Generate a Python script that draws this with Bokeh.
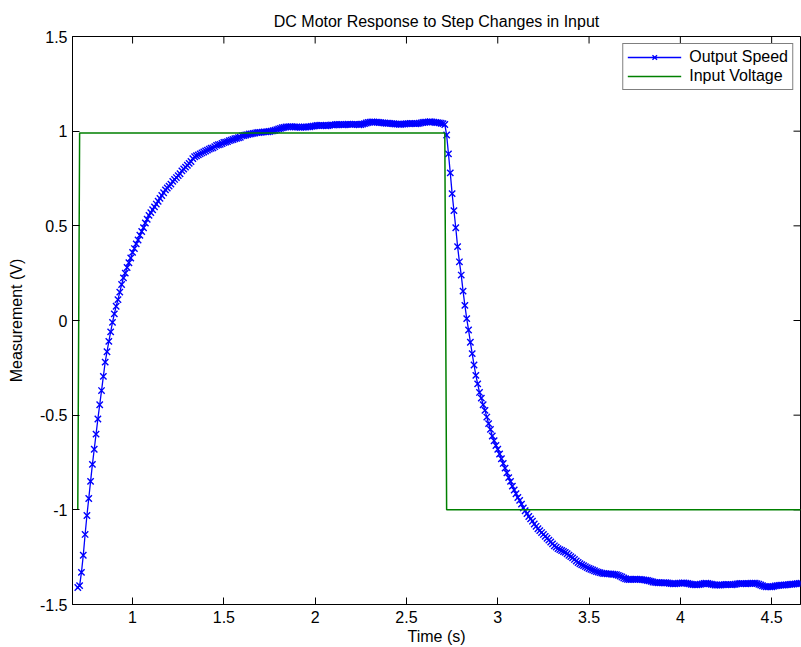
import numpy as np
from bokeh.plotting import figure
from bokeh.models import Range1d, FixedTicker, Legend, LegendItem
from bokeh.embed import file_html
from bokeh.resources import INLINE

# ---------------- data ----------------
title_text = "DC Motor Response to Step Changes in Input"
x_label = "Time (s)"
y_label = "Measurement (V)"

# sample clock of the recorded speed (s)
SAMPLE_START = 0.70
SAMPLE_STEP = 0.01

output_speed = [
    -1.41, -1.40, -1.33, -1.24, -1.13, -1.03, -0.94, -0.85, -0.76, -0.68,
    -0.60, -0.52, -0.445, -0.37, -0.295, -0.22, -0.165, -0.11, -0.06, -0.01,
    0.035, 0.075, 0.11, 0.15, 0.19, 0.225, 0.25, 0.28, 0.305, 0.33,
    0.36, 0.38, 0.405, 0.425, 0.45, 0.47, 0.49, 0.515, 0.535, 0.555,
    0.57, 0.585, 0.60, 0.615, 0.63, 0.645, 0.66, 0.675, 0.69, 0.70,
    0.71, 0.72, 0.735, 0.745, 0.755, 0.765, 0.775, 0.79, 0.80, 0.81,
    0.82, 0.83, 0.84, 0.855, 0.865, 0.87, 0.875, 0.88, 0.885, 0.89,
    0.895, 0.90, 0.905, 0.91, 0.912, 0.918, 0.925, 0.928, 0.93, 0.935,
    0.94, 0.942, 0.945, 0.95, 0.953, 0.956, 0.96, 0.962, 0.965, 0.968,
    0.975, 0.977, 0.98, 0.982, 0.985, 0.986, 0.988, 0.99, 0.992, 0.993,
    0.994, 0.995, 0.996, 0.996, 0.997, 0.998, 1.00, 1.002, 1.005, 1.008,
    1.012, 1.015, 1.018, 1.02, 1.022, 1.023, 1.024, 1.024, 1.023, 1.022,
    1.022, 1.021, 1.020, 1.021, 1.022, 1.022, 1.023, 1.023, 1.025, 1.027,
    1.028, 1.03, 1.03, 1.031, 1.03, 1.029, 1.028, 1.03, 1.032, 1.033,
    1.032, 1.034, 1.035, 1.036, 1.035, 1.033, 1.034, 1.036, 1.037, 1.036,
    1.035, 1.036, 1.037, 1.036, 1.034, 1.035, 1.037, 1.040, 1.043, 1.046,
    1.048, 1.049, 1.049, 1.048, 1.047, 1.046, 1.045, 1.044, 1.043, 1.042,
    1.042, 1.041, 1.040, 1.039, 1.038, 1.037, 1.036, 1.036, 1.037, 1.038,
    1.039, 1.04, 1.041, 1.041, 1.04, 1.039, 1.04, 1.042, 1.044, 1.046,
    1.047, 1.048, 1.049, 1.05, 1.049, 1.048, 1.046, 1.045, 1.044, 1.042,
    1.04, 1.035, 0.98, 0.88, 0.78, 0.67, 0.58, 0.49, 0.39, 0.31,
    0.24, 0.155, 0.08, 0.01, -0.05, -0.115, -0.175, -0.235, -0.29, -0.335,
    -0.38, -0.41, -0.445, -0.475, -0.51, -0.545, -0.575, -0.61, -0.635, -0.66,
    -0.68, -0.705, -0.73, -0.755, -0.78, -0.805, -0.83, -0.85, -0.875, -0.895,
    -0.915, -0.935, -0.95, -0.97, -0.99, -1.005, -1.02, -1.035, -1.048, -1.06,
    -1.075, -1.087, -1.10, -1.11, -1.12, -1.13, -1.14, -1.15, -1.16, -1.17,
    -1.18, -1.19, -1.197, -1.205, -1.21, -1.215, -1.22, -1.225, -1.232, -1.24,
    -1.247, -1.254, -1.262, -1.27, -1.278, -1.285, -1.29, -1.295, -1.30, -1.305,
    -1.31, -1.314, -1.318, -1.322, -1.326, -1.329, -1.332, -1.334, -1.336, -1.337,
    -1.338, -1.338, -1.339, -1.34, -1.341, -1.343, -1.346, -1.35, -1.355, -1.36,
    -1.364, -1.367, -1.368, -1.368, -1.367, -1.366, -1.366, -1.367, -1.368, -1.369,
    -1.370, -1.371, -1.373, -1.375, -1.378, -1.381, -1.383, -1.384, -1.385, -1.386,
    -1.386, -1.385, -1.385, -1.386, -1.388, -1.39, -1.391, -1.391, -1.39, -1.388,
    -1.387, -1.386, -1.386, -1.387, -1.389, -1.391, -1.393, -1.395, -1.396, -1.396,
    -1.395, -1.393, -1.391, -1.389, -1.388, -1.389, -1.391, -1.393, -1.395, -1.397,
    -1.398, -1.398, -1.397, -1.396, -1.395, -1.394, -1.394, -1.395, -1.396, -1.395,
    -1.393, -1.391, -1.39, -1.389, -1.389, -1.39, -1.391, -1.39, -1.389, -1.388,
    -1.387, -1.388, -1.39, -1.393, -1.397, -1.401, -1.404, -1.406, -1.407, -1.407,
    -1.406, -1.404, -1.402, -1.40, -1.399, -1.398, -1.398, -1.397, -1.396, -1.395,
    -1.394, -1.393, -1.392, -1.391, -1.390, -1.389, -1.388,
]

# input voltage: breakpoints of the step signal
input_time = [0.70, 0.71, 2.71, 2.72, 4.66]
input_voltage = [-1.0, 0.99, 0.99, -1.0, -1.0]

x_ticks = [1.0, 1.5, 2.0, 2.5, 3.0, 3.5, 4.0, 4.5]
x_tick_labels = ["1", "1.5", "2", "2.5", "3", "3.5", "4", "4.5"]
y_ticks = [-1.5, -1.0, -0.5, 0.0, 0.5, 1.0, 1.5]
y_tick_labels = ["-1.5", "-1", "-0.5", "0", "0.5", "1", "1.5"]

x_limits = (0.671, 4.658)
y_limits = (-1.5, 1.5)

series_names = ["Output Speed", "Input Voltage"]
# -----------------------------------------------------------------

time_s = np.round(SAMPLE_START + SAMPLE_STEP * np.arange(len(output_speed)), 2)

FONT = "Liberation Sans"
FS = "16px"
BLUE = "#0000FF"
GREEN = "#008000"
W, H = 801, 647
BL, BR, BT, BB = 72, 1, 36, 43
TICK_PX = 7

p = figure(width=W, height=H, output_backend="svg", toolbar_location=None,
           x_range=Range1d(*x_limits), y_range=Range1d(*y_limits),
           title=title_text, x_axis_label=x_label, y_axis_label=y_label,
           min_border_left=BL, min_border_right=BR, min_border_top=BT,
           min_border_bottom=BB, background_fill_color="white",
           border_fill_color="white")
p.grid.visible = False
p.outline_line_color = "black"
p.outline_line_width = 1

p.title.align = "center"
p.title.text_font = FONT
p.title.text_font_size = FS
p.title.text_font_style = "normal"
p.title.text_color = "black"
p.title.standoff = 14


def style_axis(ax, ticks, labels):
    ax.ticker = FixedTicker(ticks=ticks, minor_ticks=[])
    ax.major_label_overrides = {t: l for t, l in zip(ticks, labels)}
    ax.axis_line_color = "black"
    ax.axis_line_width = 1
    ax.major_tick_in = TICK_PX
    ax.major_tick_out = 0
    ax.minor_tick_in = 0
    ax.minor_tick_out = 0
    ax.major_tick_line_color = "black"
    ax.major_tick_line_width = 1
    ax.major_label_text_font = FONT
    ax.major_label_text_color = "black"
    ax.major_label_text_font_size = FS
    ax.axis_label_text_font = FONT
    ax.axis_label_text_font_size = FS
    ax.axis_label_text_font_style = "normal"
    ax.axis_label_text_color = "black"


style_axis(p.xaxis[0], x_ticks, x_tick_labels)
style_axis(p.yaxis[0], y_ticks, y_tick_labels)
p.xaxis[0].major_label_standoff = 6
p.xaxis[0].axis_label_standoff = 2
p.yaxis[0].major_label_standoff = 5
p.yaxis[0].axis_label_standoff = 12

# inward tick marks on the top and right edges of the box (MATLAB style)
frame_w = W - BL - BR
frame_h = H - BT - BB
dy_tick = (y_limits[1] - y_limits[0]) * TICK_PX / frame_h
dx_tick = (x_limits[1] - x_limits[0]) * TICK_PX / frame_w
p.segment(x0=x_ticks, y0=[y_limits[1]] * len(x_ticks),
          x1=x_ticks, y1=[y_limits[1] - dy_tick] * len(x_ticks),
          line_color="black", line_width=1)
p.segment(x0=[x_limits[1]] * len(y_ticks), y0=y_ticks,
          x1=[x_limits[1] - dx_tick] * len(y_ticks), y1=y_ticks,
          line_color="black", line_width=1)

speed_line = p.line(time_s, output_speed, line_color=BLUE, line_width=1.3)
speed_pts = p.scatter(time_s, output_speed, marker="x", size=9,
                      line_color=BLUE, line_width=1.4)
volt_line = p.line(input_time, input_voltage, line_color=GREEN, line_width=1.5)

legend = Legend(items=[
    LegendItem(label=series_names[0], renderers=[speed_line, speed_pts]),
    LegendItem(label=series_names[1], renderers=[volt_line]),
], location="top_right")
legend.border_line_color = "black"
legend.border_line_width = 1
legend.background_fill_color = "white"
legend.background_fill_alpha = 1.0
legend.label_text_font = FONT
legend.label_text_font_size = FS
legend.label_text_color = "black"
legend.glyph_width = 54
legend.glyph_height = 16
legend.label_height = 16
legend.spacing = 1
legend.padding = 4
legend.margin = 7
legend.label_standoff = 8
p.add_layout(legend)

open("out.html", "w").write(file_html(p, INLINE))
